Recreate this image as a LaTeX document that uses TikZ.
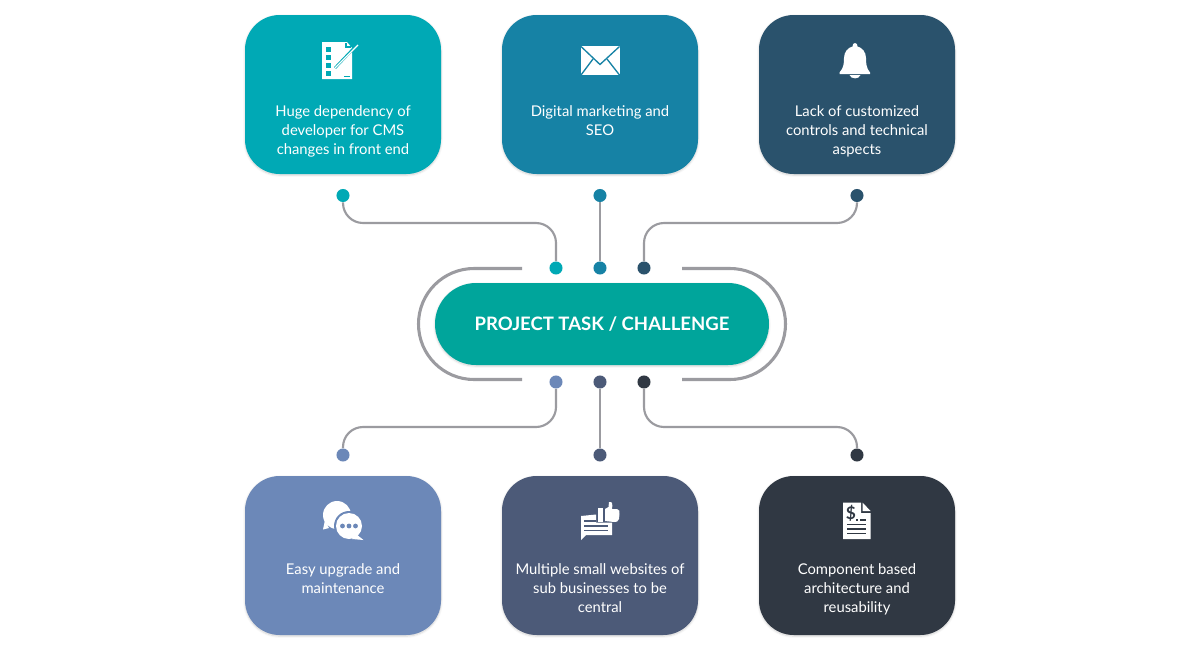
\documentclass[tikz,border=0pt]{standalone}
\usepackage{fontspec}
\setmainfont{Lato}
\usetikzlibrary{shadows, shadows.blur}
\definecolor{cardA}{HTML}{00A9B5}
\definecolor{cardB}{HTML}{1682A5}
\definecolor{cardC}{HTML}{2A526C}
\definecolor{cardD}{HTML}{6C88B8}
\definecolor{cardE}{HTML}{4C5A78}
\definecolor{cardF}{HTML}{303843}
\definecolor{pillcol}{HTML}{00A59B}
\definecolor{linkcol}{HTML}{9B9BA0}
\tikzset{
    card/.style={
        fill=#1, rounded corners=26pt, minimum width=147pt, minimum height=119.25pt,
        inner sep=0pt, blur shadow={shadow blur steps=6, shadow xshift=0pt, shadow yshift=-.8pt, shadow blur radius=1.6pt, shadow opacity=18}
    },
    cardtext/.style={
        anchor=north, align=center, text=white, inner sep=0pt, font=\fontsize{11.1}{14.2}\selectfont
    },
    dot/.style={
        circle, fill=#1, minimum size=9.8pt, inner sep=0pt
    },
    link/.style={
        draw=linkcol, line width=1.6pt, rounded corners=15pt
    },
    ring/.style={
        draw=linkcol, line width=2.3pt
    },
    ink/.style={
        fill=white, draw=none
    },
    cut/.style={
        draw=#1, line width=1pt
    }
}
\begin{document}
\begin{tikzpicture}[x=.75pt, y=.75pt, yscale=-1]
    \useasboundingbox (0,0) rectangle (1200,650);
    \node[card=cardA] (boxa) at (343,94.5) {};
    \node[card=cardB] (boxb) at (600,94.5) {};
    \node[card=cardC] (boxc) at (857,94.5) {};
    \node[card=cardD] (boxd) at (343,555.5) {};
    \node[card=cardE] (boxe) at (600,555.5) {};
    \node[card=cardF] (boxf) at (857,555.5) {};
    \node[cardtext] (texta) at (343,105) {Huge dependency of\\developer for CMS\\changes in front end};
    \node[cardtext] (textb) at (600,105) {Digital marketing and\\SEO};
    \node[cardtext] (textc) at (857,105) {Lack of customized\\controls and technical\\aspects};
    \node[cardtext] (textd) at (343,563) {Easy upgrade and\\maintenance};
    \node[cardtext] (texte) at (600,563) {Multiple small websites of\\sub businesses to be\\central};
    \node[cardtext] (textf) at (857,563) {Component based\\architecture and\\reusability};
    \node[fill=pillcol, rounded corners=30.7pt, minimum width=250.5pt, minimum height=61.5pt, inner sep=0pt,
        blur shadow={shadow blur steps=6, shadow xshift=0pt, shadow yshift=-.8pt, shadow blur radius=1.6pt, shadow opacity=18}] (pill) at (602,324) {};
    \node[text=white, inner sep=0pt, font=\fontsize{13.9}{17}\selectfont\bfseries] (pilltext) at (602,324) {PROJECT TASK / CHALLENGE};
    \coordinate (ringla) at (522,268.5);
    \coordinate (ringlb) at (522,379.5);
    \coordinate (ringra) at (682,268.5);
    \coordinate (ringrb) at (682,379.5);
    \draw[ring] (ringla) -- (474,268.5) .. controls (443.3,268.5) and (418.5,293.3) .. (418.5,324) .. controls (418.5,354.7) and (443.3,379.5) .. (474,379.5) -- (ringlb);
    \draw[ring] (ringra) -- (730,268.5) .. controls (760.7,268.5) and (785.5,293.3) .. (785.5,324) .. controls (785.5,354.7) and (760.7,379.5) .. (730,379.5) -- (ringrb);
    \node[dot=cardA] (da) at (343,195.5) {};
    \node[dot=cardB] (db) at (600,195.5) {};
    \node[dot=cardC] (dc) at (857,195.5) {};
    \node[dot=cardA] (ta) at (556,268) {};
    \node[dot=cardB] (tb) at (600,268) {};
    \node[dot=cardC] (tc) at (644,268) {};
    \node[dot=cardD] (td) at (556,382) {};
    \node[dot=cardE] (te) at (600,382) {};
    \node[dot=cardF] (tf) at (644,382) {};
    \node[dot=cardD] (dd) at (343,455) {};
    \node[dot=cardE] (de) at (600,455) {};
    \node[dot=cardF] (df) at (857,455) {};
    \coordinate (ka) at (556,223);
    \coordinate (kc) at (644,223);
    \coordinate (kd) at (556,427);
    \coordinate (kf) at (644,427);
    \draw[link] (da) |- (ka) -- (ta);
    \draw[link] (db) -- (tb);
    \draw[link] (dc) |- (kc) -- (tc);
    \draw[link] (td) -- (kd) -| (dd);
    \draw[link] (te) -- (de);
    \draw[link] (tf) -- (kf) -| (df);
    % checklist
    \fill[ink] (322,42) -- (347,42) -- (352,48) -- (352,79) -- (322,79) -- cycle;
    \fill[cardA] (326,47) rectangle (331,52);
    \fill[cardA] (326,55) rectangle (331,60);
    \fill[cardA] (326,63) rectangle (331,68);
    \fill[cardA] (326,71) rectangle (331,76);
    \draw[cardA, line width=.8pt] (346,43) -- (346,47) -- (351,47);
    \draw[cardA, line width=2pt] (335,68) -- (353,49);
    \draw[white, line width=.9pt] (335,68) -- (358,45);
    \draw[cardA, line width=.7pt] (344,76.5) -- (350,76.5);
    % envelope
    \fill[ink] (581,46) rectangle (619.5,75);
    \draw[cut=cardB] (581,46.5) -- (600,64.5) -- (619.5,46.5);
    \draw[cut=cardB] (581,75) -- (593,59);
    \draw[cut=cardB] (619.5,75) -- (607,59);
    % bell
    \fill[ink] (839.5,72.5) .. controls (844,68) and (844,62) .. (844,58) .. controls (844,52) and (848,47.5) .. (852.5,46.5) .. controls (852,42) and (858,42) .. (857.5,46.5) .. controls (862,47.5) and (866,52) .. (866,58) .. controls (866,62) and (866,68) .. (870,72.5) -- (870,74) -- (839.5,74) -- cycle;
    \fill[ink] (849.5,75) .. controls (851,79.5) and (859,79.5) .. (860.5,75) -- cycle;
    % chat bubbles
    \fill[ink] (337,515) circle (14);
    \fill[ink] (325,520) -- (329,528) -- (323,529.5) -- cycle;
    \fill[cardD] (349,526) circle (15);
    \fill[ink] (349,526) circle (13);
    \fill[ink] (356,534) -- (363.5,540) -- (352,539) -- cycle;
    \fill[cardD] (342.5,526) circle (2.4);
    \fill[cardD] (349,526) circle (2.4);
    \fill[cardD] (355.5,526) circle (2.4);
    % thumb note
    \fill[ink] (581,516) -- (596,514.5) -- (596,522.5) -- (612,522.5) -- (612,535) -- (586,535) -- (581,540) -- cycle;
    \draw[cut=cardE] (584,521) -- (596,521);
    \draw[cut=cardE] (584,526) -- (608,526);
    \draw[cut=cardE] (584,530.5) -- (608,530.5);
    \fill[ink] (598,508) rectangle (602.5,522);
    \fill[ink] (605,509) -- (608.5,507) -- (609,502) .. controls (613,501) and (612.5,505) .. (612,509) -- (617,509) .. controls (620,509) and (619.5,512) .. (619.5,514) -- (619,519) .. controls (618.5,522) and (616,522) .. (614,522) -- (605,521) -- cycle;
    % invoice
    \fill[ink] (843,502.5) -- (861,502.5) -- (861,513) -- (870.5,513) -- (870.5,539) -- (843,539) -- cycle;
    \fill[ink] (862.5,502.5) -- (870.5,511) -- (862.5,511) -- cycle;
    \node[inner sep=0pt, text=cardF, font=\fontsize{13}{13}\selectfont\bfseries] (dollar) at (851,513.5) {\$};
    \draw[cut=cardF] (860,520) -- (866,520);
    \draw[cut=cardF] (856,520) -- (858,520);
    \draw[cut=cardF] (847,524.5) -- (866,524.5);
    \draw[cut=cardF] (847,529) -- (866,529);
    \draw[cut=cardF] (847,533.5) -- (866,533.5);
\end{tikzpicture}
\end{document}
